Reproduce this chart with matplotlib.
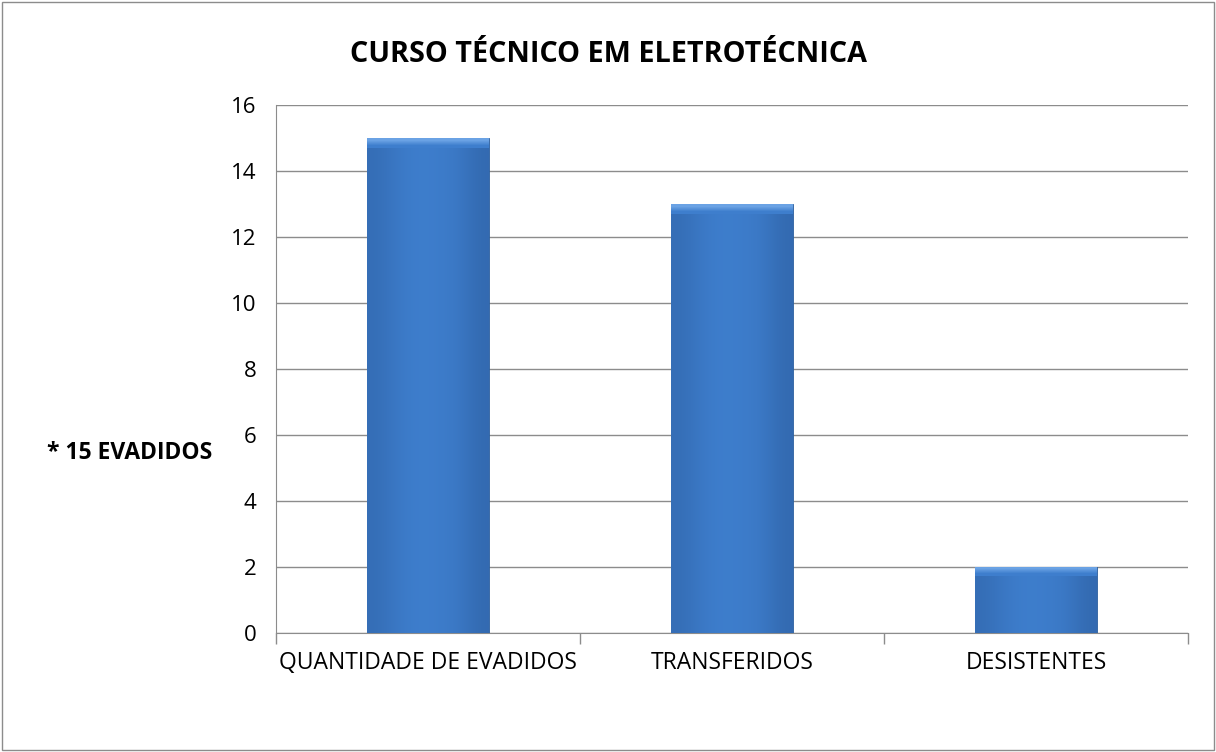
import matplotlib
matplotlib.use("Agg")
import matplotlib.pyplot as plt
import numpy as np
from matplotlib.patches import Rectangle
from matplotlib.colors import LinearSegmentedColormap

# dados
categorias = ["QUANTIDADE DE EVADIDOS", "TRANSFERIDOS", "DESISTENTES"]
valores = [15, 13, 2]
yticks = [0, 2, 4, 6, 8, 10, 12, 14, 16]

plt.rcParams["font.family"] = ["Open Sans", "DejaVu Sans"]

fig = plt.figure(figsize=(12.16, 7.52), dpi=100)
ax = fig.add_axes([0.227, 0.158, 0.75, 0.702])

x = np.arange(len(categorias))
bars = ax.bar(x, valores, width=0.4, color="#3b77c4", edgecolor="#2c5f9e",
              linewidth=0.6, zorder=3)

# gradiente horizontal para dar efeito de volume
grad = np.array([[0.55, 0.85, 1.0, 0.95, 0.85, 0.45]])
cmap = LinearSegmentedColormap.from_list("b", ["#2a5a9a", "#3e7ecd"])
for b in bars:
    x0, w, h = b.get_x(), b.get_width(), b.get_height()
    im = ax.imshow(grad, extent=[x0, x0 + w, 0, h], aspect="auto",
                   cmap=cmap, vmin=0, vmax=1, zorder=3.5, interpolation="bicubic")
    im.set_clip_path(b)
    # topo mais claro (bisel)
    top = np.array([[0.0], [1.0]])
    tim = ax.imshow(top, extent=[x0, x0 + w, h - 0.28, h], aspect="auto",
                    cmap=LinearSegmentedColormap.from_list("t", ["#3e7ecd", "#6aa2e4"]),
                    vmin=0, vmax=1, zorder=4, interpolation="bilinear", origin="lower")
    tim.set_clip_path(b)

ax.set_xlim(-0.5, 2.5)
ax.set_ylim(0, 16)
ax.set_yticks(yticks)
ax.yaxis.grid(True, color="#8c8c8c", linewidth=1)
ax.set_axisbelow(True)
ax.tick_params(axis="y", length=0, labelsize=16, pad=14)

ax.set_xticks([-0.5, 0.5, 1.5, 2.5], minor=False)
ax.set_xticklabels([])
ax.set_xticks(x, minor=True)
ax.set_xticklabels(categorias, minor=True)
ax.tick_params(axis="x", which="major", length=8, color="#8c8c8c", width=1)
ax.tick_params(axis="x", which="minor", length=0, labelsize=16.5, pad=13)

for s in ["top", "right"]:
    ax.spines[s].set_visible(False)
ax.spines["left"].set_color("#8c8c8c")
ax.spines["bottom"].set_color("#8c8c8c")

fig.text(0.5, 0.927, "CURSO TÉCNICO EM ELETROTÉCNICA", ha="center", va="center",
         fontsize=20.7, fontweight="bold")
fig.text(0.107, 0.397, "* 15 EVADIDOS", ha="center", va="center",
         fontsize=16.5, fontweight="bold")

fig.patches.append(Rectangle((0.002, 0.002), 0.996, 0.996, transform=fig.transFigure,
                             fill=False, edgecolor="#8c8c8c", linewidth=1))

fig.savefig("out.png", dpi=100)
